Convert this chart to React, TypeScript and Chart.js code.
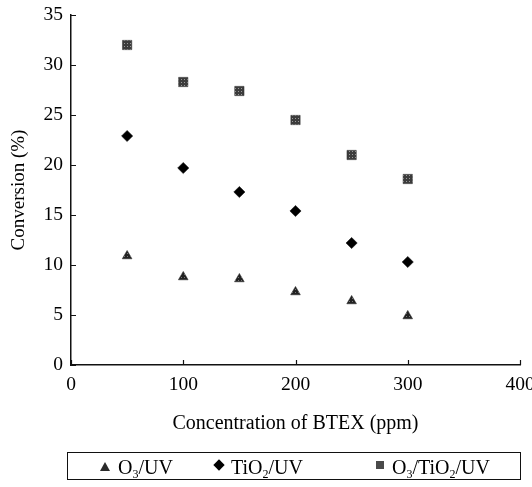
import React, { useEffect, useRef } from 'react';
import { Chart, registerables } from 'chart.js';

Chart.register(...registerables);

const concentrations = [50, 100, 150, 200, 250, 300];
const o3uv = [10.9, 8.8, 8.6, 7.3, 6.4, 4.9];
const tio2uv = [22.9, 19.7, 17.3, 15.4, 12.2, 10.3];
const o3tio2uv = [32.0, 28.3, 27.4, 24.5, 21.0, 18.6];
const xTickValues = [0, 100, 200, 300, 400];
const yTickValues = [0, 5, 10, 15, 20, 25, 30, 35];

const FONT = "'Liberation Serif', 'Times New Roman', serif";

function makePattern(dark: string, light: string) {
  const c = document.createElement('canvas');
  c.width = 3;
  c.height = 3;
  const g = c.getContext('2d')!;
  g.fillStyle = dark;
  g.fillRect(0, 0, 3, 3);
  g.fillStyle = light;
  g.fillRect(1, 1, 1, 1);
  return g.createPattern(c, 'repeat') as CanvasPattern;
}

const innerTicks = {
  id: 'innerTicks',
  afterDraw(chart: any) {
    const { ctx, scales, chartArea } = chart;
    const x = scales.x;
    const y = scales.y;
    ctx.save();
    ctx.strokeStyle = '#111';
    ctx.lineWidth = 1.2;
    ctx.beginPath();
    xTickValues.forEach((v) => {
      const px = Math.round(x.getPixelForValue(v)) + 0.5;
      ctx.moveTo(px, chartArea.bottom);
      ctx.lineTo(px, chartArea.bottom - 5);
    });
    yTickValues.forEach((v) => {
      const py = Math.round(y.getPixelForValue(v)) + 0.5;
      ctx.moveTo(chartArea.left, py);
      ctx.lineTo(chartArea.left + 5, py);
    });
    ctx.stroke();
    ctx.restore();
  },
};

export default function App() {
  const canvasRef = useRef<HTMLCanvasElement | null>(null);

  useEffect(() => {
    const canvas = canvasRef.current;
    if (!canvas) return;
    const squarePattern = makePattern('#3c3c3c', '#9a9a9a');
    const trianglePattern = makePattern('#222222', '#777777');
    const toPoints = (vals: number[]) => concentrations.map((c, i) => ({ x: c, y: vals[i] }));

    const chart = new Chart(canvas, {
      type: 'scatter',
      data: {
        datasets: [
          {
            label: 'O₃/UV',
            data: toPoints(o3uv),
            pointStyle: 'triangle',
            pointRadius: 5.6,
            backgroundColor: trianglePattern,
            borderColor: '#222',
            borderWidth: 0.5,
          },
          {
            label: 'TiO₂/UV',
            data: toPoints(tio2uv),
            pointStyle: 'rectRot',
            pointRadius: 5.6,
            backgroundColor: '#000',
            borderColor: '#000',
            borderWidth: 0.5,
          },
          {
            label: 'O₃/TiO₂/UV',
            data: toPoints(o3tio2uv),
            pointStyle: 'rect',
            pointRadius: 6.6,
            backgroundColor: squarePattern,
            borderColor: '#333',
            borderWidth: 0.5,
          },
        ],
      },
      options: {
        animation: false,
        responsive: false,
        maintainAspectRatio: false,
        layout: { padding: { top: 15, right: 12, left: 0, bottom: 42 } },
        plugins: {
          legend: { display: false },
          tooltip: { enabled: false },
        },
        scales: {
          x: {
            type: 'linear',
            min: 0,
            max: 400,
            afterBuildTicks: (s: any) => {
              s.ticks = xTickValues.map((v) => ({ value: v }));
            },
            afterFit: (s: any) => {
              s.height = 80;
              s.paddingLeft = 0;
              s.paddingRight = 0;
            },
            ticks: {
              color: '#000',
              font: { family: FONT, size: 19.5 },
              padding: 8,
              maxRotation: 0,
            },
            grid: { display: false, drawTicks: false },
            border: { display: true, color: '#111', width: 1.5 },
            title: {
              display: true,
              text: 'Concentration of BTEX (ppm)',
              color: '#000',
              font: { family: FONT, size: 20 },
              padding: { top: 0, bottom: 9 },
            },
          },
          y: {
            type: 'linear',
            min: 0,
            max: 35,
            afterBuildTicks: (s: any) => {
              s.ticks = yTickValues.map((v) => ({ value: v }));
            },
            afterFit: (s: any) => {
              s.width = 71;
              s.paddingTop = 0;
              s.paddingBottom = 0;
            },
            ticks: {
              color: '#000',
              font: { family: FONT, size: 19.5 },
              padding: 8,
            },
            grid: { display: false, drawTicks: false },
            border: { display: true, color: '#111', width: 1.5 },
            title: {
              display: true,
              text: 'Conversion (%)',
              color: '#000',
              font: { family: FONT, size: 19 },
              padding: { top: 8, bottom: 0 },
            },
          },
        },
      },
      plugins: [innerTicks],
    });
    return () => chart.destroy();
  }, []);

  const textStyle: React.CSSProperties = {
    position: 'absolute',
    top: 4,
    fontFamily: FONT,
    fontSize: 20,
    lineHeight: '20px',
    color: '#000',
    whiteSpace: 'nowrap',
  };
  const subStyle: React.CSSProperties = { fontSize: 12, verticalAlign: -4, lineHeight: 0 };

  return (
    <div style={{ position: 'fixed', left: 0, top: 0, width: 532, height: 487, background: '#fff' }}>
      <canvas ref={canvasRef} width={532} height={487} style={{ display: 'block', width: 532, height: 487 }} />
      <div
        style={{
          position: 'absolute',
          left: 67,
          top: 452,
          width: 454,
          height: 28,
          border: '1.3px solid #111',
          boxSizing: 'border-box',
        }}
      >
        <div
          style={{
            position: 'absolute',
            left: 104 - 67 - 5,
            top: 9,
            width: 0,
            height: 0,
            borderLeft: '5px solid transparent',
            borderRight: '5px solid transparent',
            borderBottom: '9px solid #2a2a2a',
          }}
        />
        <span style={{ ...textStyle, left: 117 - 67 }}>
          O<sub style={subStyle}>3</sub>/UV
        </span>
        <div
          style={{
            position: 'absolute',
            left: 218 - 67 - 4,
            top: 8,
            width: 8,
            height: 8,
            background: '#000',
            transform: 'rotate(45deg)',
          }}
        />
        <span style={{ ...textStyle, left: 230 - 67 }}>
          TiO<sub style={subStyle}>2</sub>/UV
        </span>
        <div
          style={{
            position: 'absolute',
            left: 379 - 67 - 4,
            top: 8,
            width: 8,
            height: 8,
            background: '#4a4a4a',
          }}
        />
        <span style={{ ...textStyle, left: 391 - 67 }}>
          O<sub style={subStyle}>3</sub>/TiO<sub style={subStyle}>2</sub>/UV
        </span>
      </div>
    </div>
  );
}
